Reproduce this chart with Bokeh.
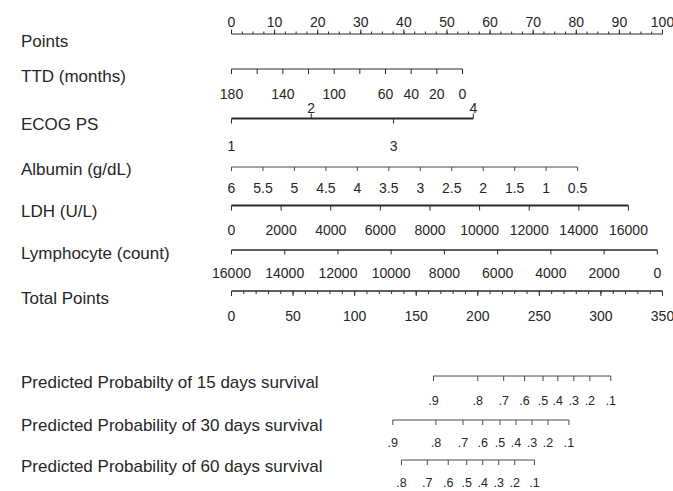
from bokeh.plotting import figure
from bokeh.models import Range1d
from bokeh.embed import file_html
from bokeh.resources import INLINE
from bokeh.core.properties import value

# ---------------- data ----------------
points_major = [0, 10, 20, 30, 40, 50, 60, 70, 80, 90, 100]
points_minor = [0, 2.5, 5, 7.5, 10, 12.5, 15, 17.5, 20, 22.5, 25, 27.5, 30, 32.5, 35, 37.5,
                40, 42.5, 45, 47.5, 50, 52.5, 55, 57.5, 60, 62.5, 65, 67.5, 70, 72.5, 75,
                77.5, 80, 82.5, 85, 87.5, 90, 92.5, 95, 97.5, 100]

ttd_ticks = [180, 160, 140, 120, 100, 80, 60, 40, 20, 0]
ttd_labels = [180, 140, 100, 60, 40, 20, 0]
ttd_max_points = 53.6          # points at TTD = 0 months

ecog_levels = ["1", "2", "3", "4"]
ecog_points = [0, 18.5, 37.6, 56.1]

albumin_ticks = [6, 5.5, 5, 4.5, 4, 3.5, 3, 2.5, 2, 1.5, 1, 0.5]
albumin_labels = ["6", "5.5", "5", "4.5", "4", "3.5", "3", "2.5", "2", "1.5", "1", "0.5"]
albumin_max_points = 80.3      # points at albumin = 0.5

ldh_ticks = [0, 2000, 4000, 6000, 8000, 10000, 12000, 14000, 16000]
ldh_max_points = 92.1          # points at LDH = 16000

lymph_ticks = [16000, 14000, 12000, 10000, 8000, 6000, 4000, 2000, 0]
lymph_max_points = 98.8        # points at lymphocyte = 0

total_major = [0, 50, 100, 150, 200, 250, 300, 350]
total_minor = list(range(0, 351, 10))
total_max = 350

pred15_labels = [".9", ".8", ".7", ".6", ".5", ".4", ".3", ".2", ".1"]
pred15_total = [164, 200, 221, 238, 253, 265, 278, 291, 308]
pred30_labels = [".9", ".8", ".7", ".6", ".5", ".4", ".3", ".2", ".1"]
pred30_total = [131, 166, 188, 204, 218, 231, 244, 257, 274]
pred60_labels = [".8", ".7", ".6", ".5", ".4", ".3", ".2", ".1"]
pred60_total = [138, 159, 176, 191, 204, 217, 230, 246]

row_names = ["Points", " TTD (months)", "ECOG PS", "Albumin (g/dL)", "LDH (U/L)",
             "Lymphocyte (count)", "Total Points",
             "Predicted Probabilty of 15 days survival",
             "Predicted Probability of 30 days survival",
             "Predicted Probability of 60 days survival"]

# ---------------- layout ----------------
W, H = 673, 491
PX_PER_POINT = 4.31
X0 = 231  # pixel of 0 points
FONT = value("Liberation Sans")
LINE = "#2a2a2a"
GREY = "#4a4a4a"
TXT = "#262626"

p = figure(width=W, height=H, output_backend="svg", toolbar_location=None,
           x_axis_type=None, y_axis_type=None,
           x_range=Range1d(-X0 / PX_PER_POINT, (W - X0) / PX_PER_POINT),
           y_range=Range1d(H, 0), min_border=0)
p.outline_line_color = None
p.grid.visible = False
p.background_fill_color = "white"
p.border_fill_color = "white"
p.styles = {"position": "absolute", "left": "0px", "top": "0px"}

segs = {}  # width/colour -> lists


def seg(x0, y0, x1, y1, w=1.0, c=LINE):
    d = segs.setdefault((w, c), dict(x0=[], y0=[], x1=[], y1=[]))
    d["x0"].append(x0); d["y0"].append(y0); d["x1"].append(x1); d["y1"].append(y1)


def texts(xs, y, labels, size="14px", align="center", color=TXT):
    p.text(x=list(xs), y=[y] * len(labels), text=[str(t) for t in labels],
           text_font=FONT, text_font_size=size, text_align=align,
           text_baseline="middle", text_color=color)


# Points
y = 33.5
seg(points_major[0], y, points_major[-1], y, 1.2)
for v in points_minor:
    seg(v, y, v, y - 2.5, 1)
for v in points_major:
    seg(v, y, v, y - 4.5, 1)
texts(points_major, 21.5, points_major)

# TTD
y = 68.5
ttd_pts = [ttd_max_points * (180 - v) / 180 for v in ttd_ticks]
seg(min(ttd_pts), y, max(ttd_pts), y, 1.2)
for x in ttd_pts:
    seg(x, y, x, y + 5, 1)
texts([ttd_max_points * (180 - v) / 180 for v in ttd_labels], 93, ttd_labels)

# ECOG PS
y = 118
seg(ecog_points[0], y, ecog_points[-1], y, 2.2)
for i, (x, lab) in enumerate(zip(ecog_points, ecog_levels)):
    if i % 2 == 0:
        seg(x, y, x, y + 5, 1)
        texts([x], 145.5, [lab])
    else:
        seg(x, y, x, y - 5, 1)
        texts([x], 107.5, [lab])

# Albumin
y = 166.5
alb_pts = [albumin_max_points * (6 - v) / 5.5 for v in albumin_ticks]
seg(alb_pts[0], y, alb_pts[-1], y, 1, GREY)
for x in alb_pts:
    seg(x, y, x, y + 4, 1, GREY)
texts(alb_pts, 187.5, albumin_labels)

# LDH
y = 205
ldh_pts = [ldh_max_points * v / 16000 for v in ldh_ticks]
seg(ldh_pts[0], y, ldh_pts[-1], y, 2.2)
for x in ldh_pts:
    seg(x, y, x, y + 5, 1)
texts(ldh_pts, 229, ldh_ticks)

# Lymphocyte
y = 249.5
ly_pts = [lymph_max_points * (16000 - v) / 16000 for v in lymph_ticks]
seg(ly_pts[0], y, ly_pts[-1], y, 1.6)
for x in ly_pts:
    seg(x, y, x, y + 4.5, 1)
texts(ly_pts, 272, lymph_ticks)

# Total points
y = 290.5
tot = lambda t: t * 100 / total_max
seg(tot(0), y, tot(total_max), y, 1.6)
for v in total_minor:
    seg(tot(v), y, tot(v), y + 3, 1)
for v in total_major:
    seg(tot(v), y, tot(v), y + 5, 1)
texts([tot(v) for v in total_major], 315, total_major)

# Predicted probabilities
for (labs, tvals, yl, yt) in [(pred15_labels, pred15_total, 375.5, 399.5),
                              (pred30_labels, pred30_total, 419.5, 441.5),
                              (pred60_labels, pred60_total, 459.5, 482)]:
    xs = [tot(t) for t in tvals]
    seg(xs[0], yl, xs[-1], yl, 1, GREY)
    for x in xs:
        seg(x, yl, x, yl + 5, 1, GREY)
    texts(xs, yt, labs, size="12.5px")

for (w, c), d in segs.items():
    p.segment(x0=d["x0"], y0=d["y0"], x1=d["x1"], y1=d["y1"], line_width=w, line_color=c)

# Row names
name_x = (20.5 - X0) / PX_PER_POINT
name_y = [41, 76, 124, 168.5, 211, 252.5, 297.5, 382, 425, 466]
for nm, yy in zip(row_names, name_y):
    texts([name_x], yy, [nm], size="17px", align="left")

open("out.html", "w").write(file_html(p, INLINE))
